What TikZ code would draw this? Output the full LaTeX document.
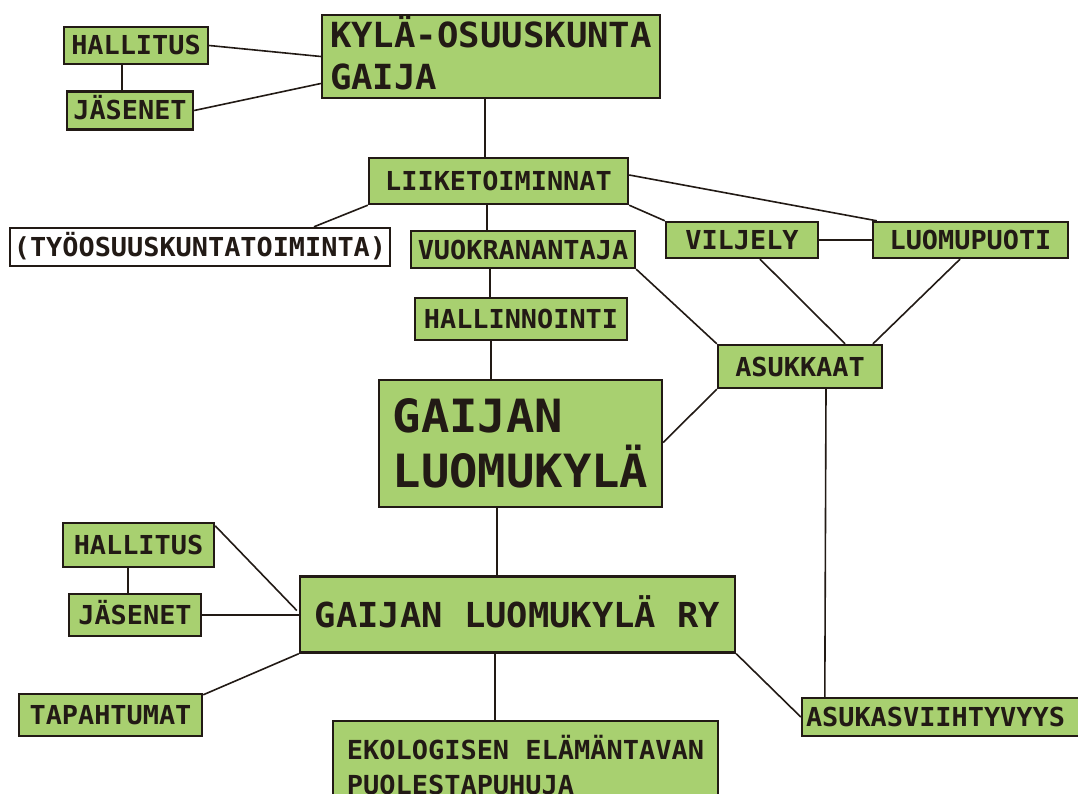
\documentclass[tikz,border=0pt]{standalone}
\usepackage{fontspec}
\usetikzlibrary{calc,backgrounds}
\newfontfamily\bxfont{DejaVu Sans Mono Bold}[FakeStretch=1.03]
\definecolor{boxgreen}{RGB}{168,208,112}
\definecolor{ink}{RGB}{34,26,21}
\begin{document}
\begin{tikzpicture}[x=1pt,y=-1pt,
  bxbase/.style={draw=ink, line width=2.4pt, fill=boxgreen, inner sep=0pt, text=ink},
  bx/.style={bxbase, font=\bxfont\fontsize{26.1}{30}\selectfont, text height=19pt, text depth=0pt},
  wbx/.style={bx, fill=white},
  con/.style={draw=ink, line width=1.6pt}]
\useasboundingbox (0,0) rectangle (1078,794);
\clip (0,0) rectangle (1078,794);
% top cluster
\node[bx, minimum width=144pt, minimum height=37pt] (h1) at (136,45.5) {HALLITUS};
\node[bx, minimum width=126pt, minimum height=38pt] (j1) at (130,110.5) {JÄSENET};
\node[bxbase, minimum width=338pt, minimum height=83pt, align=left,
      font=\bxfont\fontsize{34.6}{42}\selectfont, text height=67pt, text depth=0pt]
      (kyla) at (491,56.5) {KYLÄ-OSUUSKUNTA\\GAIJA};
\node[bx, minimum width=259pt, minimum height=46pt] (liike) at (498.5,181) {LIIKETOIMINNAT};
\node[wbx, minimum width=380pt, minimum height=38pt] (tyo) at (200,247) {(TYÖOSUUSKUNTATOIMINTA)};
\node[bx, minimum width=224pt, minimum height=37pt] (vuokra) at (523,249.5) {VUOKRANANTAJA};
\node[bx, minimum width=152pt, minimum height=36pt] (viljely) at (742,240) {VILJELY};
\node[bx, minimum width=195pt, minimum height=36pt] (luomu) at (970.5,240) {LUOMUPUOTI};
\node[bx, minimum width=212pt, minimum height=42pt] (hallinn) at (521,319) {HALLINNOINTI};
\node[bx, minimum width=164pt, minimum height=43pt] (asuk) at (800,366.5) {ASUKKAAT};
\node[bxbase, minimum width=283pt, minimum height=127pt, align=left,
      font=\bxfont\fontsize{45.8}{55}\selectfont, text height=88.4pt, text depth=0pt]
      (gaijan) at (520.5,443.5) {GAIJAN\\LUOMUKYLÄ};
% bottom cluster
\node[bx, minimum width=151pt, minimum height=44pt] (h2) at (138.5,545) {HALLITUS};
\node[bx, minimum width=132pt, minimum height=42pt] (j2) at (135,615) {JÄSENET};
\node[bxbase, minimum width=435pt, minimum height=76pt,
      font=\bxfont\fontsize{34.4}{40}\selectfont, text height=25pt, text depth=0pt]
      (ry) at (517.5,614.5) {GAIJAN LUOMUKYLÄ RY};
\node[bx, minimum width=183pt, minimum height=42pt] (tap) at (110.5,715) {TAPAHTUMAT};
\node[bxbase, anchor=north, minimum width=385pt, inner ysep=19pt, align=left,
      font=\bxfont\fontsize{26.2}{35}\selectfont, text height=54.1pt, text depth=0pt]
      (eko) at (525.5,720) {EKOLOGISEN ELÄMÄNTAVAN\\PUOLESTAPUHUJA};
\node[bx, minimum width=288pt, minimum height=38pt, text width=280pt, align=left, inner xsep=4pt]
      (asukv) at (946,717) {ASUKASVIIHTYVYYS};
% connectors
\begin{scope}[on background layer]
\fill[white] (0,0) rectangle (1078,794);
\draw[con] (h1.east) -- (kyla.west);
\draw[con] (j1.east) -- ($(kyla.west)+(0,27)$);
\draw[con] ($(h1.south)+(-14,0)$) -- ($(j1.north)+(-8,0)$);
\draw[con] ($(kyla.south)+(-6,0)$) -- ($(liike.north)+(-13.5,0)$);
\draw[con] (liike.south west) -- ($(tyo.north)+(114,0)$);
\draw[con] ($(liike.south)+(-11.5,0)$) -- ($(vuokra.north)+(-36,0)$);
\draw[con] (liike.south east) -- (viljely.north west);
\draw[con] ($(liike.east)+(0,-6)$) -- ($(luomu.north west)+(5,0)$);
\draw[con] (viljely.east) -- (luomu.west);
\draw[con] ($(vuokra.south)+(-33,0)$) -- ($(hallinn.north)+(-31,0)$);
\draw[con] (vuokra.south east) -- (asuk.north west);
\draw[con] ($(viljely.south)+(18,0)$) -- ($(asuk.north)+(45,0)$);
\draw[con] ($(luomu.south)+(-10.5,0)$) -- ($(asuk.north)+(73,0)$);
\draw[con] ($(hallinn.south)+(-30,0)$) -- ($(gaijan.north)+(-29.5,0)$);
\draw[con] (asuk.south west) -- ($(gaijan.east)+(0,-1)$);
\draw[con] ($(asuk.south)+(26,0)$) -- ($(asukv.north west)+(24,0)$);
\draw[con] ($(gaijan.south)+(-23.5,0)$) -- ($(ry.north)+(-20.5,0)$);
\draw[con] ($(h2.north east)+(0,4)$) -- ($(ry.west)+(-2,-4)$);
\draw[con] ($(h2.south)+(-10.5,0)$) -- ($(j2.north)+(-7,0)$);
\draw[con] (j2.east) -- (j2.east -| ry.west);
\draw[con] ($(tap.north east)+(0,2)$) -- (ry.south west);
\draw[con] ($(ry.south)+(-22.5,0)$) -- ($(eko.north)+(-30.5,0)$);
\draw[con] (ry.south east) -- (asukv.west);
\end{scope}
\end{tikzpicture}
\end{document}
